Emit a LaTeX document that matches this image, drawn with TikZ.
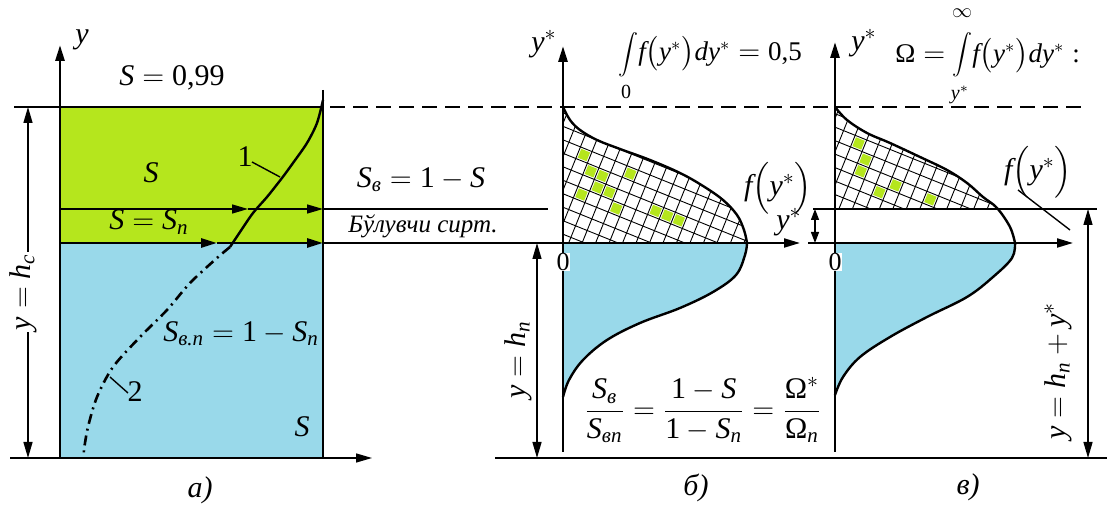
\documentclass[tikz,border=0pt]{standalone}
\usepackage{amsmath}
\usepackage{fontspec}
\setmainfont{Liberation Serif}
\usetikzlibrary{arrows.meta}
\definecolor{limeg}{HTML}{B5E61D}
\definecolor{lblue}{HTML}{99D9EA}
\newcommand\tS{\textit{S}}
\newcommand\ty{\textit{y}}
\newcommand\tf{\textit{f}}
\newcommand\ti[1]{\textit{#1}}
\newcommand\fs[1]{\fontsize{#1}{#1}\selectfont}
\begin{document}
\begin{tikzpicture}[x=0.5pt,y=-0.5pt,
  thickln/.style={line width=1.4pt},
  medln/.style={line width=1pt},
  thinln/.style={line width=0.7pt},
  curveln/.style={line width=1.2pt},
  hatchln/.style={line width=0.45pt},
  arr/.style={-{Triangle[length=8pt,width=4.5pt]}},
  darr/.style={{Triangle[length=8pt,width=4.5pt]}-{Triangle[length=8pt,width=4.5pt]}},
  sdarr/.style={{Triangle[length=5.5pt,width=4pt]}-{Triangle[length=5.5pt,width=4pt]}},
  lbl/.style={font=\fs{15}, inner sep=1pt},
  formula/.style={anchor=base west, font=\fs{13.5}, inner sep=0pt},
  intsign/.style={font=\fs{10}, inner sep=0pt},
  limit/.style={font=\fs{10}, inner sep=0pt},
  dashln/.style={line width=0.7pt, dash pattern=on 7.5pt off 4pt},
  dashdot/.style={line width=1.3pt, dash pattern=on 5pt off 2.5pt on 1pt off 2.5pt}
]
\useasboundingbox (0,0) rectangle (1107,506);

% ---------- fills ----------
\fill[limeg] (60,107) rectangle (323,243);
\fill[lblue] (60,243) rectangle (323,458);
\fill[lblue] plot[smooth,tension=0.6] coordinates {(747,243) (745,255) (736,275) (713,292) (680,308) (640,323) (607,340) (583,360) (569,380) (563,397)} -- (563,243) -- cycle;
\fill[lblue] plot[smooth,tension=0.6] coordinates {(1015,243) (1012,258) (993,277) (967,297) (927,317) (890,337) (860,357) (843,377) (835,395)} -- (835,243) -- cycle;

% ---------- hatch panel b ----------
\begin{scope}
\clip plot[smooth,tension=0.6] coordinates {(563,107) (570,120) (580,130) (597,140) (620,149) (650,160) (680,173) (703,186) (723,200) (737,215) (744,230) (747,243)} -- (563,243) -- cycle;
\begin{scope}[rotate around={-22:(650,175)}]
\foreach \a/\b in {-6/0,-5/1,-4/1,-4/2,-3/2,-5/3,-2/3,-2/0,1/2,2/2,3/2}
  \fill[limeg] ({650+12.5*\a+1.5},{175+12.5*\b+1.5}) rectangle ++(9.5,9.5);
\foreach \i in {-20,...,20} {
  \draw[hatchln] ({650+12.5*\i},-100) -- ({650+12.5*\i},450);
  \draw[hatchln] (400,{175+12.5*\i}) -- (900,{175+12.5*\i});
}
\end{scope}
\end{scope}

% ---------- hatch panel c ----------
\begin{scope}
\clip (800,0) rectangle (1107,209);
\clip plot[smooth,tension=0.6] coordinates {(835,107) (847,120) (867,133) (890,143) (920,157) (947,170) (967,183) (983,197) (997,208) (1010,227) (1015,243)} -- (835,243) -- cycle;
\begin{scope}[rotate around={-22:(920,175)}]
\foreach \a/\b in {-6/-1,-5/0,-5/1,-3/2,-2/1,1/1}
  \fill[limeg] ({920+12.5*\a+1.5},{175+12.5*\b+1.5}) rectangle ++(9.5,9.5);
\foreach \i in {-20,...,20} {
  \draw[hatchln] ({920+12.5*\i},-100) -- ({920+12.5*\i},450);
  \draw[hatchln] (650,{175+12.5*\i}) -- (1200,{175+12.5*\i});
}
\end{scope}
\end{scope}

% ---------- coordinates ----------
\coordinate (aTL) at (14,107);
\coordinate (aTR) at (323,107);
\coordinate (aTop) at (323,90);
\coordinate (aBL) at (60,458);
\coordinate (aBR) at (323,458);
\coordinate (aM1) at (60,209);
\coordinate (aA1) at (248,209);
\coordinate (aR1) at (323,209);
\coordinate (aE1) at (548,209);
\coordinate (aM2) at (60,243);
\coordinate (aA2) at (217,243);
\coordinate (aR2) at (323,243);
\coordinate (bO) at (563,243);
\coordinate (bX) at (800,243);
\coordinate (cO) at (835,243);
\coordinate (cX) at (1073,243);

% ---------- horizontal lines ----------
\draw[thinln] (aTL) -- (aTR);
\draw[dashln] (330,107) -- (1085,107);
\draw[thinln, arr] (aM1) -- (aA1);
\draw[thinln, arr] (aA1) -- (aR1);
\draw[thinln] (aR1) -- (aE1);
\draw[thinln] (813,209) -- (1097,209);
\draw[thickln, arr] (aM2) -- (aA2);
\draw[thickln, arr] (aA2) -- (aR2);
\draw[thinln] (aR2) -- (bO);
\draw[medln, arr] (bO) -- (bX);
\draw[thinln] (808,243) -- (cO);
\draw[medln, arr] (cO) -- (cX);
\draw[thinln, arr] (10,458) -- (372,458);
\draw[thinln] (495,458) -- (1107,458);

% ---------- panel a box ----------
\draw[thickln] (aTop) -- (aBR);
\draw[thickln] (aBL) -- (aBR);
\draw[thickln, arr] (aBL) -- (60,45);

% ---------- curves a ----------
\draw[curveln] plot[smooth] coordinates {(323,100) (317,123) (307,143) (293,163) (282,178) (267,197) (253,213) (240,232) (230,247)};
\draw[dashdot] plot[smooth] coordinates {(230,247) (217,258) (190,283) (167,310) (140,337) (113,367) (97,397) (88,427) (84,450) (84,458)};

% ---------- curves b, c ----------
\draw[curveln] plot[smooth,tension=0.6] coordinates {(563,107) (570,120) (580,130) (597,140) (620,149) (650,160) (680,173) (703,186) (723,200) (737,215) (744,230) (747,243)};
\draw[curveln] plot[smooth,tension=0.6] coordinates {(747,243) (745,255) (736,275) (713,292) (680,308) (640,323) (607,340) (583,360) (569,380) (563,397)};
\draw[curveln] plot[smooth,tension=0.6] coordinates {(835,107) (847,120) (867,133) (890,143) (920,157) (947,170) (967,183) (983,197) (997,208) (1010,227) (1015,243)};
\draw[curveln] plot[smooth,tension=0.6] coordinates {(1015,243) (1012,258) (993,277) (967,297) (927,317) (890,337) (860,357) (843,377) (835,395)};

% ---------- axes b, c ----------
\draw[thickln, arr] (563,452) -- (563,46);
\draw[thickln, arr] (835,452) -- (835,42);

% ---------- dimension lines ----------
\draw[thinln, darr] (28,107) -- (28,458);
\draw[thinln, darr] (537,243) -- (537,458);
\draw[thinln, darr] (1088,209) -- (1088,458);
\draw[thinln, sdarr] (815,209) -- (815,243);

% ---------- leaders ----------
\draw[thinln] (252,162) -- (280,177);
\draw[thinln] (110,377) -- (128,393);
\draw[thinln] (1018,190) -- (1070,230);

% ---------- texts panel a ----------
\node[lbl] (ya) at (82,40) {$\ty$};
\node[lbl] (s99) at (172,78) {$\tS = \text{0,99}$};
\node[lbl] (sg) at (151,173) {$\tS$};
\node[lbl] (ssn) at (149,222) {$\tS = \tS_{\ti{п}}$};
\node[lbl] (sen) at (241,334) {$\tS_{\ti{в.п}} = \text{1} - \tS_{\ti{п}}$};
\node[lbl] (sb) at (302,427) {$\tS$};
\node[lbl] (n1) at (245,157) {1};
\node[lbl] (n2) at (135,392) {2};
\node[lbl, rotate=90, fill=white] (ha) at (23,292) {$\ty = \ti{h}_{\ti{с}}$};
\node[lbl] (se) at (421,180) {$\tS_{\ti{в}} = \text{1} - \tS$};
\node[font=\fs{12.5}\itshape, inner sep=1pt] (bs) at (423,226) {Бўлувчи сирт.};
\node[lbl] (la) at (200,490) {\textit{а)}};

% ---------- texts panel b ----------
\node[lbl] (yb) at (544,44) {$\ty^{*}$};
\node[intsign] (ib) at (628,55) {$\displaystyle\int$};
\node[limit] (ib0) at (626,92) {0};
\node[formula] (fb1) at (638,61) {$\tf\bigl(\ty^{*}\bigr)\ti{d}\ty^{*} = \text{0,5}$};
\node[lbl] (fb) at (778,188) {$\tf\Bigl(\ty^{*}\Bigr)$};
\node[lbl] (ysm) at (789,222) {$\ty^{*}$};
\node[font=\fs{13}, fill=white, inner sep=0.3pt] (ob) at (563,262) {0};
\node[lbl, rotate=90] (hb) at (518,360) {$\ty = \ti{h}_{\ti{п}}$};
\node[font=\fs{15}, inner sep=1pt] (frac) at (703,410) {$\dfrac{\tS_{\ti{в}}}{\tS_{\ti{вп}}} = \dfrac{\text{1} - \tS}{\text{1} - \tS_{\ti{п}}} = \dfrac{\text{Ω}^{*}}{\text{Ω}_{\ti{п}}}$};
\node[lbl] (lb) at (696,488) {\textit{б)}};

% ---------- texts panel c ----------
\node[lbl] (yc) at (864,43) {$\ty^{*}$};
\node[formula] (om) at (895,63) {$\text{Ω} =$};
\node[intsign] (ic) at (962,55) {$\displaystyle\int$};
\node[limit] (icinf) at (962,13) {$\infty$};
\node[limit] (icy) at (960,95) {$\ty^{*}$};
\node[formula] (fc1) at (972,63) {$\tf\bigl(\ty^{*}\bigr)\ti{d}\ty^{*}\;\text{:}$};
\node[lbl] (fc) at (1038,172) {$\tf\Bigl(\ty^{*}\Bigr)$};
\node[font=\fs{13}, fill=white, inner sep=0.3pt] (oc) at (835,262) {0};
\node[lbl, rotate=90] (hc) at (1058,371) {$\ty = \ti{h}_{\ti{п}} + \ty^{*}$};
\node[lbl] (lc) at (968,487) {\textit{в)}};
\end{tikzpicture}
\end{document}
